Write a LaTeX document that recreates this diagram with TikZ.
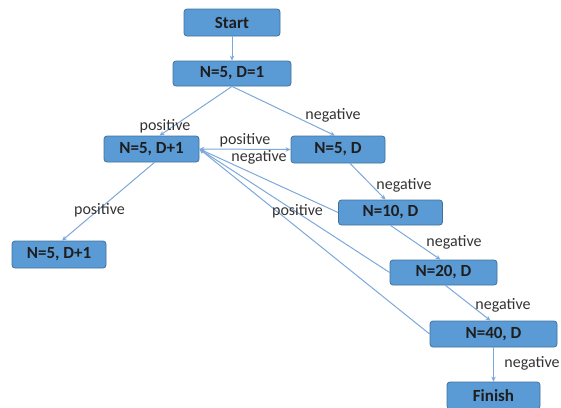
\documentclass[tikz,border=0pt]{standalone}
\usepackage{fontspec}
\setmainfont{Carlito}
\usetikzlibrary{arrows.meta}
\definecolor{boxfill}{HTML}{5B9BD5}
\definecolor{boxline}{HTML}{41719C}
\definecolor{linkcol}{HTML}{7DA8DA}
\definecolor{txt}{HTML}{1E1E1E}
\definecolor{lbl}{HTML}{333333}
\tikzset{
  box/.style={draw=boxline, line width=0.8pt, fill=boxfill, rounded corners=3pt,
    inner sep=0pt, font=\fontsize{17}{17}\selectfont\bfseries, text=txt},
  link/.style={draw=linkcol, line width=1pt, -{Stealth[length=5pt,width=4.5pt]}},
  lab/.style={font=\fontsize{16}{16}\selectfont, text=lbl, inner sep=0pt}
}
\begin{document}
\begin{tikzpicture}[x=1pt,y=-1pt]
\useasboundingbox (0,0) rectangle (561,407);
\clip (0,0) rectangle (561,407);
% boxes
\node[box, minimum width=96, minimum height=27] (start) at (232,22.5) {Start};
\node[box, minimum width=118, minimum height=25] (n1) at (232,73.5) {N=5, D=1};
\node[box, minimum width=95, minimum height=26] (d1) at (151.5,149) {N=5, D+1};
\node[box, minimum width=94, minimum height=27] (nd) at (338,149.5) {N=5, D};
\node[box, minimum width=104, minimum height=25] (n10) at (390.5,212.5) {N=10, D};
\node[box, minimum width=107, minimum height=25] (n20) at (443.5,272.5) {N=20, D};
\node[box, minimum width=127, minimum height=26] (n40) at (493.5,334) {N=40, D};
\node[box, minimum width=93, minimum height=27] (fin) at (493.5,395.5) {Finish};
\node[box, minimum width=94, minimum height=27] (d2) at (59,254.5) {N=5, D+1};
% connectors
\draw[link] (start) -- (n1);
\draw[link] (n1.south) -- ([xshift=8]d1.north);
\draw[link] (n1.south) -- ([xshift=-3]nd.north);
\draw[link, {Stealth[length=5pt,width=4.5pt]}-{Stealth[length=5pt,width=4.5pt]}] (d1.east) -- (nd.west);
\draw[link] ([xshift=3]d1.south) -- ([xshift=3]d2.north);
\draw[link] ([xshift=12]nd.south) -- ([xshift=-5]n10.north);
\draw[link] (n10.south) -- ([xshift=-3]n20.north);
\draw[link] ([xshift=2]n20.south) -- ([xshift=-3]n40.north);
\draw[link] (n40) -- (fin);
\draw[link] (n10.west) -- (d1.east);
\draw[link] (n20.west) -- (d1.east);
\draw[link] (n40.west) -- (d1.east);
% labels
\node[lab] (l1) at (165,126) {positive};
\node[lab] (l2) at (333,115) {negative};
\node[lab] (l3) at (245,140.5) {positive};
\node[lab] (l4) at (259,157) {negative};
\node[lab] (l5) at (99.5,210) {positive};
\node[lab] (l6) at (297.5,211) {positive};
\node[lab] (l7) at (404,185) {negative};
\node[lab] (l8) at (454,242) {negative};
\node[lab] (l9) at (503,305) {negative};
\node[lab] (l10) at (532,363) {negative};
\end{tikzpicture}
\end{document}
